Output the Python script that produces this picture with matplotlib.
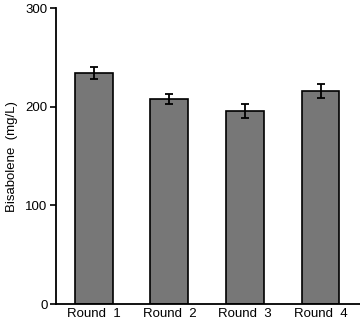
import numpy as np
import matplotlib.pyplot as plt

plt.rcParams['font.family'] = ['Liberation Sans', 'DejaVu Sans']

rounds = ['Round  1', 'Round  2', 'Round  3', 'Round  4']
bisabolene = [234, 208, 196, 216]
err = [6, 5, 7, 7]

fig = plt.figure(figsize=(3.6, 3.23), dpi=100)
ax = fig.add_axes([0.1556, 0.0588, 0.844, 0.916])

x = np.arange(len(rounds))
ax.bar(x, bisabolene, width=0.5, color='#777777', edgecolor='black', linewidth=1.2,
       yerr=err, capsize=3, error_kw=dict(elinewidth=1.3, capthick=1.3, ecolor='black'))

ax.set_xlim(-0.5, 3.52)
ax.set_ylim(0, 300)
ax.set_yticks([0, 100, 200, 300])
ax.set_xticks(x)
ax.set_xticklabels(rounds, fontsize=9.5)
ax.tick_params(axis='x', length=0, pad=3)
ax.tick_params(axis='y', length=4, width=1.2, labelsize=9.5, pad=2)
ax.set_ylabel('Bisabolene  (mg/L)', fontsize=9.5, labelpad=5)

for s in ['top', 'right']:
    ax.spines[s].set_visible(False)
for s in ['left', 'bottom']:
    ax.spines[s].set_linewidth(1.3)

fig.savefig('out.png', dpi=100)
